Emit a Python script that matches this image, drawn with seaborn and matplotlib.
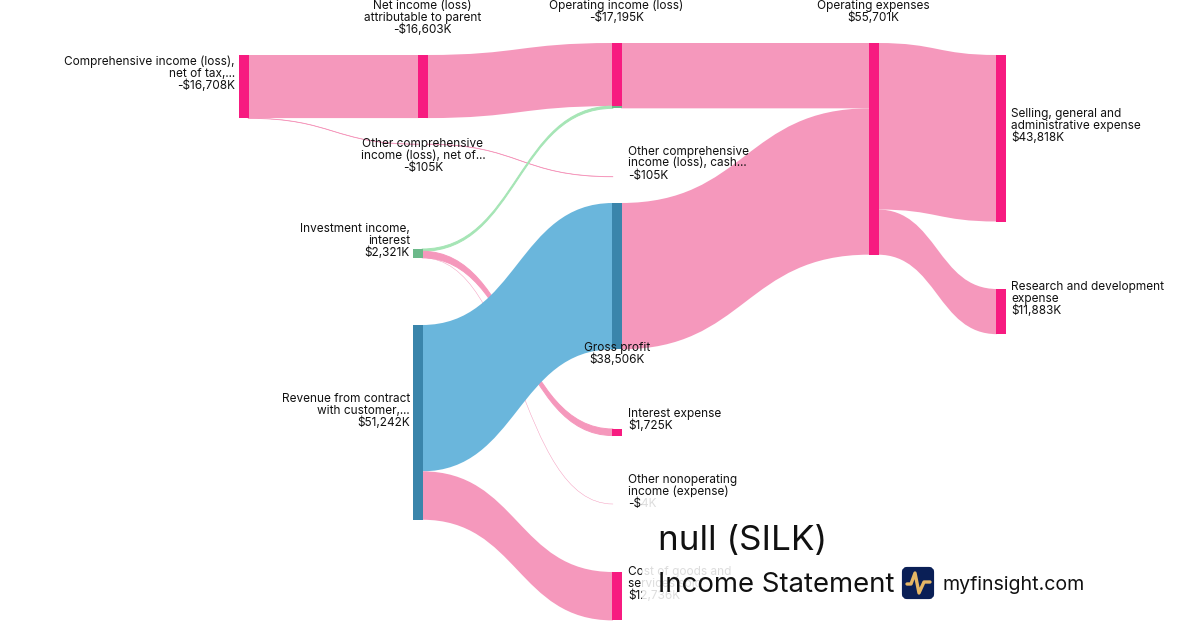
import numpy as np
import seaborn as sns
import matplotlib.pyplot as plt
from matplotlib.path import Path
from matplotlib.patches import PathPatch, Rectangle, FancyBboxPatch

# values in $K
node_names = ['comp', 'net', 'opinc', 'opex', 'oci1', 'oci2', 'invest', 'rev', 'gross',
              'interest', 'nonop', 'cost', 'sga', 'rd']
node_values = [16708, 16603, 17195, 55701, 105, 105, 2321, 51242, 38506, 1725, 4, 12736, 43818, 11883]
node_kinds = ['pink', 'pink', 'pink', 'pink', 'pink', 'pink', 'green', 'blue', 'blue',
              'pink', 'pink', 'pink', 'pink', 'pink']

# layout of the columns, in pixels
node_left = [239, 417.5, 612, 868.5, 417.5, 612, 413, 413, 612, 612, 612, 612, 996, 996]
node_top = [55, 55, 43, 43, 144, 176.5, 249, 325, 203, 429, 504, 572, 55, 289]

# links, pink ones first because the blue band covers them
link_source = ['comp', 'comp', 'oci1', 'net', 'opinc', 'gross', 'opex', 'opex', 'invest', 'invest', 'invest', 'rev', 'rev']
link_target = ['net', 'oci1', 'oci2', 'opinc', 'opex', 'opex', 'sga', 'rd', 'opinc', 'interest', 'nonop', 'gross', 'cost']
link_values = [16603, 105, 105, 16603, 17195, 38506, 43818, 11883, 592, 1725, 4, 38506, 12736]
link_kinds = ['pink', 'pink', 'pink', 'pink', 'pink', 'pink', 'pink', 'pink', 'green', 'pink', 'pink', 'blue', 'pink']

label_lines = {
    'comp': ['Comprehensive income (loss),', 'net of tax,...', '-$16,708K'],
    'net': ['Net income (loss)', 'attributable to parent', '-$16,603K'],
    'opinc': ['Operating income (loss)', '-$17,195K'],
    'opex': ['Operating expenses', '$55,701K'],
    'oci1': ['Other comprehensive', 'income (loss), net of...', '-$105K'],
    'oci2': ['Other comprehensive', 'income (loss), cash...', '-$105K'],
    'invest': ['Investment income,', 'interest', '$2,321K'],
    'rev': ['Revenue from contract', 'with customer,...', '$51,242K'],
    'gross': ['Gross profit', '$38,506K'],
    'interest': ['Interest expense', '$1,725K'],
    'nonop': ['Other nonoperating', 'income (expense)', '-$4K'],
    'cost': ['Cost of goods and', 'services sold', '$12,736K'],
    'sga': ['Selling, general and', 'administrative expense', '$43,818K'],
    'rd': ['Research and development', 'expense', '$11,883K'],
}
# anchor x, y of first line, alignment
label_pos = {
    'comp': (235, 62, 'right'), 'net': (422.5, 6, 'center'), 'opinc': (616.5, 6, 'center'),
    'opex': (873.5, 6, 'center'), 'oci1': (423, 144, 'center'), 'oci2': (628, 151.5, 'left'),
    'invest': (410, 229, 'right'), 'rev': (410, 399, 'right'), 'gross': (617, 348, 'center'),
    'interest': (628, 414, 'left'), 'nonop': (628, 480, 'left'), 'cost': (628, 572, 'left'),
    'sga': (1011, 114, 'left'), 'rd': (1011, 287, 'left'),
}

link_colors = {'pink': '#f598bc', 'blue': '#6ab6dc', 'green': '#a5e5b5'}
node_colors = {'pink': '#f71b80', 'blue': '#3a85ab', 'green': '#6cb98a'}

PX_PER_K = 0.0038
NODE_W = 10

sns.set_theme(style='white')
plt.rcParams['font.family'] = ['Inter', 'DejaVu Sans']

fig, ax = plt.subplots(figsize=(12, 6.3), dpi=100)
ax.set_position([0, 0, 1, 1])

nodes = {n: (l, t, v, k) for n, l, t, v, k in zip(node_names, node_left, node_top, node_values, node_kinds)}


def node_bar(left, top, height, color):
    sns.barplot(x=[left + NODE_W / 2], y=[height], bottom=top, width=NODE_W, native_scale=True,
                color=color, saturation=1, errorbar=None, ax=ax, zorder=3, linewidth=0)


def ribbon(x0, y0, x1, y1, h, color):
    # one px under the nodes so no seam shows
    x0, x1 = x0 - 1, x1 + 1
    mid = (x0 + x1) / 2
    verts = [(x0, y0), (mid, y0), (mid, y1), (x1, y1), (x1, y1 + h), (mid, y1 + h), (mid, y0 + h), (x0, y0 + h), (x0, y0)]
    codes = [Path.MOVETO, Path.CURVE4, Path.CURVE4, Path.CURVE4, Path.LINETO,
             Path.CURVE4, Path.CURVE4, Path.CURVE4, Path.CLOSEPOLY]
    # thin links would vanish without the outline
    if h < 0.2:
        ax.add_patch(PathPatch(Path(verts, codes), facecolor=color, edgecolor=color, lw=0.3, alpha=0.55, zorder=2))
    elif h < 1:
        ax.add_patch(PathPatch(Path(verts, codes), facecolor=color, edgecolor=color, lw=0.35, zorder=2))
    elif h < 8:
        ax.add_patch(PathPatch(Path(verts, codes), facecolor=color, edgecolor=color, lw=0.7, zorder=2))
    else:
        ax.add_patch(PathPatch(Path(verts, codes), facecolor=color, edgecolor='none', zorder=2))


out_used = {n: 0 for n in node_names}
in_used = {n: 0 for n in node_names}
tinted = []
placed = []
for s, t, v, k in zip(link_source, link_target, link_values, link_kinds):
    h = v * PX_PER_K
    placed.append((s, t, out_used[s], in_used[t], h, k))
    out_used[s] += h
    in_used[t] += h

for s, t, so, to, h, k in placed:
    sl, st = nodes[s][0], nodes[s][1]
    tl, tt = nodes[t][0], nodes[t][1]
    ribbon(sl + NODE_W, st + so, tl, tt + to, h, link_colors[k])
    if k != nodes[t][3]:
        tinted.append((tl, tt + to, h, node_colors[k]))

for n in node_names:
    l, t, v, k = nodes[n]
    if v > 100:
        node_bar(l, t, max(v * PX_PER_K, 0.4), node_colors[k])
for l, t, h, c in tinted:
    node_bar(l, t, h, c)

for n, lines in label_lines.items():
    x, y, ha = label_pos[n]
    for i, line in enumerate(lines):
        ax.text(x, y + i * 12, line, ha=ha, va='center', fontsize=8.5, color='#111111', zorder=4)

# white veil behind the title block
ax.add_patch(Rectangle((641.5, 497), 460, 133, facecolor='white', alpha=0.86, edgecolor='none', zorder=5))
ax.text(658, 541, 'null (SILK)', fontsize=25.2, color='#111111', va='center', ha='left', zorder=6)
ax.text(658, 585, 'Income Statement', fontsize=19.85, color='#111111', va='center', ha='left', zorder=6)
ax.text(942, 585, 'myfinsight.com', fontsize=14.1, color='#111111', va='center', ha='left', zorder=6)

# logo
ax.add_patch(FancyBboxPatch((904, 569), 28, 28, boxstyle='round,pad=0,rounding_size=3', mutation_scale=1,
                            facecolor='#0a1f56', edgecolor='#0a1f56', lw=3, zorder=6))
ax.plot([907, 911, 915, 919, 924, 930], [584, 584, 573, 593, 582, 582], color='#e6b765', lw=2.4,
        solid_joinstyle='round', solid_capstyle='round', zorder=7)

ax.set_xlim(0, 1200)
ax.set_ylim(630, 0)
ax.axis('off')
fig.savefig('out.png', dpi=100, facecolor='white')
